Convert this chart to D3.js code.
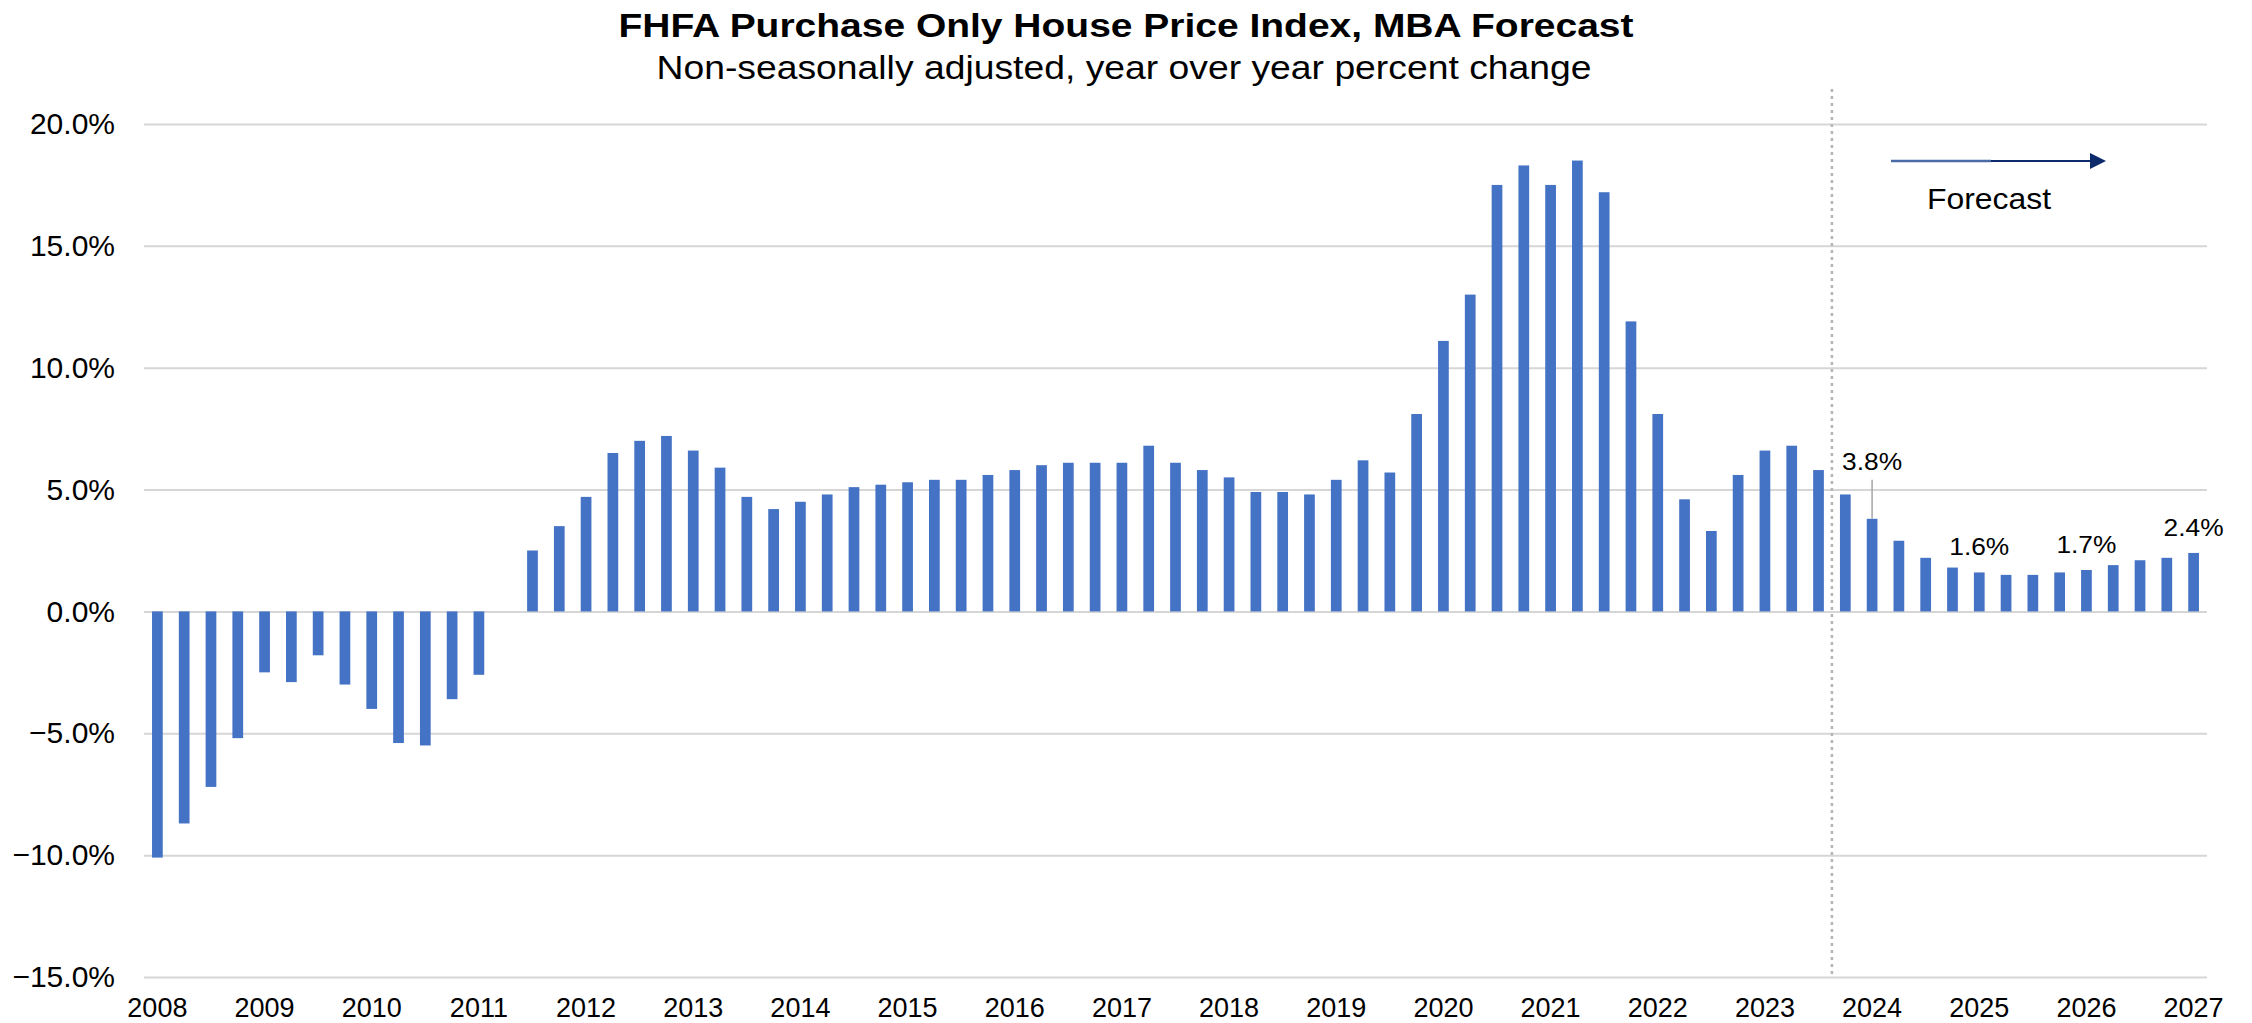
<!DOCTYPE html>
<html>
<head>
<meta charset="utf-8">
<script src="https://cdn.jsdelivr.net/npm/d3@7"></script>
<style>
  body { margin: 0; background: #fff; }
  svg text { font-family: "Liberation Sans", Arial, sans-serif; fill: #000; }
</style>
</head>
<body>
<svg class="chart" width="2252" height="1023"></svg>
<script>
// years shown on the axis, one label at each Q1 bar
const years = d3.range(2008, 2028);
// year over year % change per quarter, 2008 Q1 .. 2027 Q1
const values = [
  -10.1, -8.7, -7.2, -5.2,
  -2.5, -2.9, -1.8, -3.0,
  -4.0, -5.4, -5.5, -3.6,
  -2.6, 0.0, 2.5, 3.5,
  4.7, 6.5, 7.0, 7.2,
  6.6, 5.9, 4.7, 4.2,
  4.5, 4.8, 5.1, 5.2,
  5.3, 5.4, 5.4, 5.6,
  5.8, 6.0, 6.1, 6.1,
  6.1, 6.8, 6.1, 5.8,
  5.5, 4.9, 4.9, 4.8,
  5.4, 6.2, 5.7, 8.1,
  11.1, 13.0, 17.5, 18.3,
  17.5, 18.5, 17.2, 11.9,
  8.1, 4.6, 3.3, 5.6,
  6.6, 6.8, 5.8, 4.8,
  3.8, 2.9, 2.2, 1.8,
  1.6, 1.5, 1.5, 1.6,
  1.7, 1.9, 2.1, 2.2,
  2.4
];
const yTicks = [-15, -10, -5, 0, 5, 10, 15, 20];
const forecastStart = '2023 Q4';
const labelled = ['2024 Q1', '2025 Q1', '2026 Q1', '2027 Q1'];

const title = 'FHFA Purchase Only House Price Index, MBA Forecast';
const subtitle = 'Non-seasonally adjusted, year over year percent change';

// build the quarter categories
const quarters = [];
years.forEach(yr => ['Q1', 'Q2', 'Q3', 'Q4'].forEach(q => quarters.push(`${yr} ${q}`)));
const data = values.map((v, i) => ({ q: quarters[i], v: v }));

const svg = d3.select('.chart');
const plot = { left: 144, right: 2207, top: 124, bottom: 977 };

const x = d3.scaleBand()
  .domain(data.map(d => d.q))
  .range([plot.left, plot.right])
  .paddingInner(0.6)
  .paddingOuter(0.3);

const y = d3.scaleLinear()
  .domain([-15, 20])
  .range([plot.bottom, plot.top]);

const cx = q => x(q) + x.bandwidth() / 2;

// titles (the source font runs a bit wide, so stretch to its length)
svg.append('text')
  .attr('x', 1126).attr('y', 37)
  .attr('text-anchor', 'middle')
  .attr('textLength', 1015).attr('lengthAdjust', 'spacingAndGlyphs')
  .style('font-size', '34px').style('font-weight', 'bold')
  .text(title);
svg.append('text')
  .attr('x', 1124).attr('y', 79)
  .attr('text-anchor', 'middle')
  .attr('textLength', 935).attr('lengthAdjust', 'spacingAndGlyphs')
  .style('font-size', '33px')
  .text(subtitle);

// gridlines + y labels
const yAxis = svg.append('g')
  .attr('transform', `translate(${plot.left},0)`)
  .call(d3.axisLeft(y).tickValues(yTicks).tickSize(-(plot.right - plot.left)).tickPadding(29)
    .tickFormat(d => d3.format('.1f')(d) + '%'));
yAxis.select('.domain').remove();
yAxis.selectAll('.tick line').attr('stroke', '#d6d6d6').attr('stroke-width', 2);
yAxis.selectAll('.tick text')
  .style('font-size', '30px')
  .style('font-family', '"Liberation Sans", Arial, sans-serif')
  .attr('fill', '#000');

// forecast divider
const divX = cx(forecastStart) - x.step() / 2;
svg.append('line')
  .attr('x1', divX).attr('x2', divX)
  .attr('y1', 89).attr('y2', plot.bottom)
  .attr('stroke', '#b4b4b4').attr('stroke-width', 2.5)
  .attr('stroke-dasharray', '3,4');

// bars
svg.append('g')
  .selectAll('rect')
  .data(data)
  .join('rect')
  .attr('x', d => x(d.q))
  .attr('width', x.bandwidth())
  .attr('y', d => y(Math.max(0, d.v)))
  .attr('height', d => Math.abs(y(d.v) - y(0)))
  .attr('fill', '#4472c4');

// x labels at Q1 bars
svg.append('g')
  .selectAll('text')
  .data(years)
  .join('text')
  .attr('x', d => cx(`${d} Q1`))
  .attr('y', 1017)
  .attr('text-anchor', 'middle')
  .style('font-size', '27px')
  .text(d => d);

// value callouts
const callouts = data.filter(d => labelled.includes(d.q));
callouts.forEach((d, i) => {
  const lifted = i === 0;
  const ty = lifted ? y(d.v) - 49 : y(d.v) - 17;
  svg.append('text')
    .attr('x', cx(d.q)).attr('y', ty)
    .attr('text-anchor', 'middle')
    .attr('textLength', 60).attr('lengthAdjust', 'spacingAndGlyphs')
    .style('font-size', '24px')
    .text(d3.format('.1f')(d.v) + '%');
  if (lifted) {
    svg.append('line')
      .attr('x1', cx(d.q)).attr('x2', cx(d.q))
      .attr('y1', ty + 10).attr('y2', y(d.v))
      .attr('stroke', '#a6a6a6').attr('stroke-width', 1.5);
  }
});

// forecast arrow
const ax0 = 1891, ax1 = 2106, ay = 161;
svg.append('line')
  .attr('x1', ax0).attr('x2', ax0 + 100).attr('y1', ay).attr('y2', ay)
  .attr('stroke', '#4a6ba8').attr('stroke-width', 2.5);
svg.append('line')
  .attr('x1', ax0 + 100).attr('x2', ax1 - 12).attr('y1', ay).attr('y2', ay)
  .attr('stroke', '#0d2b6b').attr('stroke-width', 2);
svg.append('path')
  .attr('d', `M${ax1 - 16},${ay - 8} L${ax1},${ay} L${ax1 - 16},${ay + 8} Z`)
  .attr('fill', '#0d2b6b');
svg.append('text')
  .attr('x', 1989).attr('y', 209)
  .attr('text-anchor', 'middle')
  .attr('textLength', 124).attr('lengthAdjust', 'spacingAndGlyphs')
  .style('font-size', '30px')
  .text('Forecast');
</script>
</body>
</html>
